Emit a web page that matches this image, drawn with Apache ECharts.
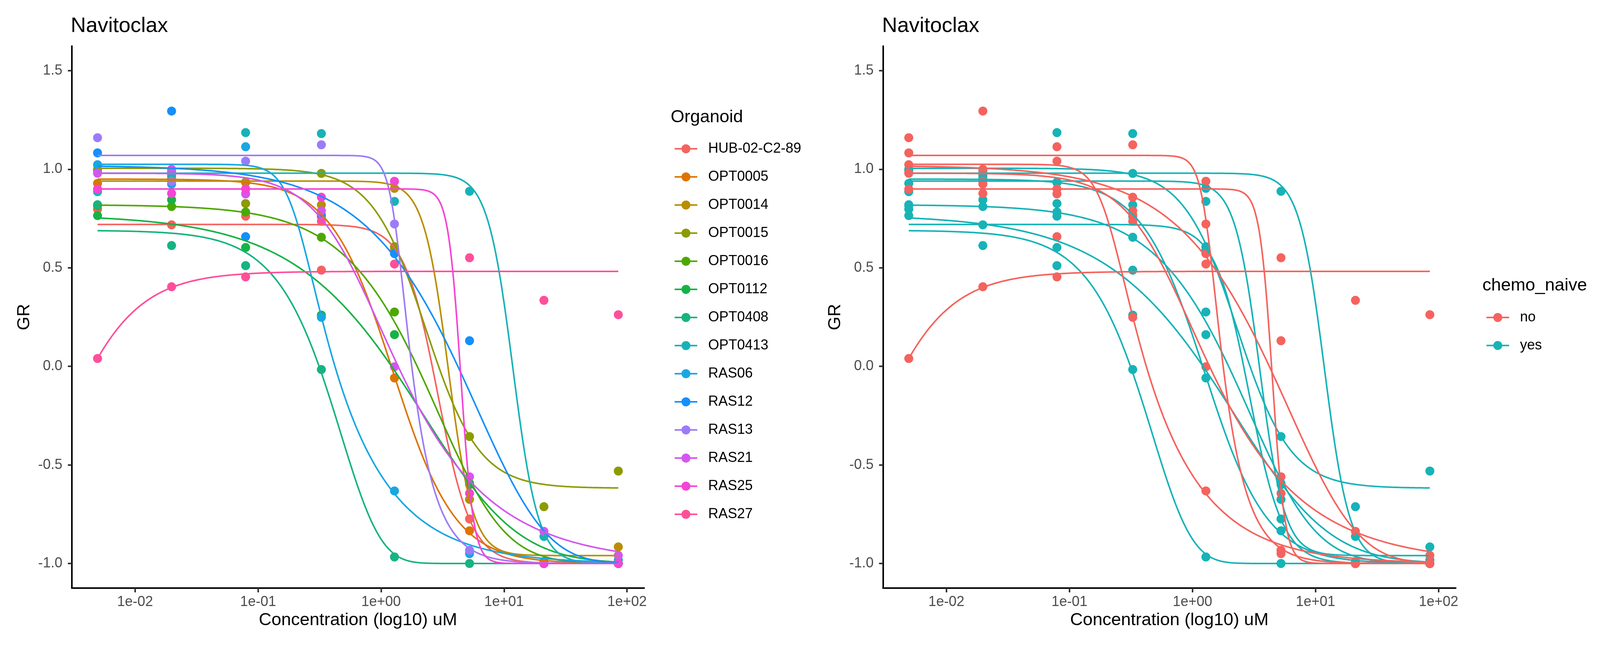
<!DOCTYPE html>
<html>
<head>
<meta charset="utf-8">
<script src="https://cdn.jsdelivr.net/npm/echarts@6/dist/echarts.min.js"></script>
<style>
html,body{margin:0;padding:0;background:#ffffff;}
#chart{width:4137px;height:1662px;}
</style>
</head>
<body>
<div id="chart"></div>
<script>
// ---------------- data ----------------
const drugName = 'Navitoclax';
const organoids = ['HUB-02-C2-89','OPT0005','OPT0014','OPT0015','OPT0016','OPT0112','OPT0408','OPT0413','RAS06','RAS12','RAS13','RAS21','RAS25','RAS27'];
const chemoNaive = ['yes','yes','yes','yes','yes','yes','yes','yes','no','no','no','no','no','no'];
const chemoLevels = ['no','yes'];

// concentrations (uM) of the 8 measured doses
const doses = [0.00495, 0.0198, 0.0792, 0.327, 1.285, 5.24, 21.1, 84.9];

// GR value measured at each dose
const grHUB02C289 = [0.797, 0.718, 0.762, 0.488, 0.590, -0.774, -1.000, -1.000];
const grOPT0005   = [0.928, 0.960, 0.935, 0.760, -0.059, -0.834, -1.000, -1.000];
const grOPT0014   = [0.994, 0.978, 0.932, 0.819, 0.903, -0.675, -1.000, -0.916];
const grOPT0015   = [1.000, 0.990, 0.826, 0.979, 0.607, -0.356, -0.712, -0.531];
const grOPT0016   = [0.815, 0.811, 0.783, 0.655, 0.276, -0.600, -1.000, -1.000];
const grOPT0112   = [0.765, 0.845, 0.603, 0.260, 0.161, -0.593, -1.000, -1.000];
const grOPT0408   = [0.820, 0.613, 0.511, -0.016, -0.967, -1.000, -1.000, -1.000];
const grOPT0413   = [0.886, 0.970, 1.186, 1.181, 0.837, 0.888, -0.863, -0.982];
const grRAS06     = [1.023, 0.925, 1.114, 0.249, -0.632, -0.950, -1.000, -1.000];
const grRAS12     = [1.083, 1.295, 0.658, 0.769, 0.572, 0.130, -0.990, -1.000];
const grRAS13     = [1.160, 0.939, 1.041, 1.124, 0.722, -0.933, -1.000, -1.000];
const grRAS21     = [0.980, 1.000, 0.875, 0.789, -0.002, -0.560, -0.837, -0.959];
const grRAS25     = [0.899, 0.877, 0.900, 0.858, 0.939, -0.644, -1.000, -1.000];
const grRAS27     = [0.040, 0.404, 0.454, 0.736, 0.519, 0.551, 0.335, 0.262];
const grByOrganoid = [grHUB02C289, grOPT0005, grOPT0014, grOPT0015, grOPT0016, grOPT0112, grOPT0408,
                      grOPT0413, grRAS06, grRAS12, grRAS13, grRAS21, grRAS25, grRAS27];

// fitted dose-response curves:
// plateau at low dose, plateau at high dose, asymmetry, and two points the curve passes through
const fitTop       = [0.72, 0.95, 0.94, 1.005, 0.82, 0.77, 0.69, 0.98, 1.025, 1.02, 1.07, 0.98, 0.90, -1.5];
const fitBottom    = [-1.0, -1.0, -0.96, -0.618, -1.0, -1.0, -1.0, -1.0, -1.0, -1.0, -1.0, -1.0, -1.0, 0.482];
const fitShape     = [1, 1, 1, 1, 3, 3, 8, 1, 0.2, 8, 0.3, 0.4, 1, 1];
const anchorLoDose = [1.3, 0.32, 2.66, 1.3, 0.32, 0.32, 0.32, 9.12, 0.2716, 0.32, 1.3, 0.327, 3.86, 0.00495];
const anchorLoGR   = [0.595, 0.777, 0.501, 0.612, 0.654, 0.42, -0.016, 0.48, 0.456, 0.865, 0.723, 0.749, 0.46, 0.04];
const anchorHiDose = [5.25, 1.3, 5.25, 5.25, 5.25, 5.25, 1.3, 19.2, 1.3, 21, 2.866, 21, 5.82, 0.0198];
const anchorHiGR   = [-0.777, -0.059, -0.675, -0.356, -0.575, -0.594, -0.955, -0.774, -0.65, -0.833, -0.675, -0.84, -0.823, 0.40];

// axis ticks
const xTickExponents = [-2, -1, 0, 1, 2];
const yTicks = [-1, -0.5, 0, 0.5, 1, 1.5];

// ---------------- styling ----------------
const organoidColors = ['#F5635E','#DD7400','#B98E00','#8C9B00','#4CA800','#17B246','#17B382',
                        '#18B2B6','#18A7E2','#1490FA','#9C7BF8','#D456EE','#F544D6','#FF4F9A'];
const chemoColors = {no:'#F5635E', yes:'#17B3B7'};
const FONT = 'Liberation Sans, Arial, Helvetica, sans-serif';

// ---------------- curve model ----------------
function buildCurve(i){
  const T = fitTop[i], B = fitBottom[i], s = fitShape[i];
  const g = f => Math.pow((T - B) / (f - B), 1 / s) - 1;
  const g1 = g(anchorLoGR[i]), g2 = g(anchorHiGR[i]);
  const h = Math.log(g2 / g1) / Math.log(anchorHiDose[i] / anchorLoDose[i]);
  const ec = anchorLoDose[i] / Math.pow(g1, 1 / h);
  return c => B + (T - B) / Math.pow(1 + Math.pow(c / ec, h), s);
}
const lxStart = Math.log10(doses[0]);
const lxEnd = Math.log10(doses[doses.length - 1]);
const NS = 400;
const curveLx = [];
for (let k = 0; k <= NS; k++) curveLx.push(lxStart + (lxEnd - lxStart) * k / NS);

// ---------------- axes ----------------
function expLabel(v){
  const e = Math.round(v);
  const a = Math.abs(e);
  return '1e' + (e < 0 ? '-' : '+') + (a < 10 ? '0' + a : '' + a);
}
function makeX(gi){
  return {
    type:'value', gridIndex:gi, min:-2.515, max:2.139,
    axisLine:{show:true, onZero:false, lineStyle:{color:'#000000', width:4}},
    axisTick:{show:true, length:11, customValues:xTickExponents, lineStyle:{color:'#333333', width:4}},
    axisLabel:{show:true, customValues:xTickExponents, formatter:expLabel, margin:18,
               fontSize:36, color:'#4D4D4D', fontFamily:FONT},
    splitLine:{show:false},
    name:'Concentration (log10) uM', nameLocation:'middle', nameGap:60,
    nameTextStyle:{fontSize:45, color:'#000000', fontFamily:FONT}
  };
}
function makeY(gi){
  return {
    type:'value', gridIndex:gi, min:-1.125, max:1.625,
    axisLine:{show:true, onZero:false, lineStyle:{color:'#000000', width:4}},
    axisTick:{show:true, length:10, customValues:yTicks, lineStyle:{color:'#333333', width:4}},
    axisLabel:{show:true, customValues:yTicks, formatter:v => v.toFixed(1), margin:24,
               fontSize:36, color:'#4D4D4D', fontFamily:FONT},
    splitLine:{show:false},
    name:'GR', nameLocation:'middle', nameGap:99,
    nameTextStyle:{fontSize:45, color:'#000000', fontFamily:FONT}
  };
}

// ---------------- series ----------------
const series = [];
organoids.forEach((name, i) => {
  const curve = buildCurve(i);
  const pts = curveLx.map(lx => [lx, curve(Math.pow(10, lx))]);
  series.push({
    type:'line', name:name, xAxisIndex:0, yAxisIndex:0, data:pts,
    showSymbol:false, symbol:'circle', smooth:false, z:3, silent:true,
    lineStyle:{width:4, color:organoidColors[i]}, itemStyle:{color:organoidColors[i]},
    emphasis:{disabled:true}
  });
  const cc = chemoColors[chemoNaive[i]];
  series.push({
    type:'line', name:chemoNaive[i], xAxisIndex:1, yAxisIndex:1, data:pts,
    showSymbol:false, symbol:'circle', smooth:false, z:3, silent:true,
    lineStyle:{width:4, color:cc}, itemStyle:{color:cc},
    emphasis:{disabled:true}
  });
});
organoids.forEach((name, i) => {
  const pts = doses.map((d, k) => [Math.log10(d), grByOrganoid[i][k]]);
  series.push({
    type:'scatter', name:name, xAxisIndex:0, yAxisIndex:0, data:pts,
    symbol:'circle', symbolSize:23, z:2, silent:true,
    itemStyle:{color:organoidColors[i], opacity:1}, emphasis:{disabled:true}
  });
  series.push({
    type:'scatter', name:chemoNaive[i], xAxisIndex:1, yAxisIndex:1, data:pts,
    symbol:'circle', symbolSize:23, z:2, silent:true,
    itemStyle:{color:chemoColors[chemoNaive[i]], opacity:1}, emphasis:{disabled:true}
  });
});

const titleStyle = {fontSize:54, fontWeight:'normal', color:'#000000', fontFamily:FONT};
const legendTitleStyle = {fontSize:45, fontWeight:'normal', color:'#000000', fontFamily:FONT};
const legendText = {fontSize:36, color:'#000000', fontFamily:FONT, padding:[0,0,0,23]};

const option = {
  backgroundColor:'#ffffff',
  animation:false,
  title:[
    {text:drugName, left:181, top:40, padding:0, textStyle:titleStyle},
    {text:drugName, left:2258, top:40, padding:0, textStyle:titleStyle},
    {text:'Organoid', left:1717, top:278, padding:0, textStyle:legendTitleStyle},
    {text:'chemo_naive', left:3795, top:709, padding:0, textStyle:legendTitleStyle}
  ],
  grid:[
    {left:183.7, top:117.9, width:1465.3, height:1388.2, containLabel:false, outerBoundsMode:'none'},
    {left:2260.4, top:117.9, width:1466.2, height:1388.2, containLabel:false, outerBoundsMode:'none'}
  ],
  xAxis:[makeX(0), makeX(1)],
  yAxis:[makeY(0), makeY(1)],
  legend:[
    {
      data:organoids, orient:'vertical', left:1725, top:363, padding:0,
      itemWidth:58, itemHeight:28.75, itemGap:36, selectedMode:false,
      lineStyle:{width:4}, textStyle:legendText
    },
    {
      data:chemoLevels, orient:'vertical', left:3803.3, top:795, padding:0,
      itemWidth:58, itemHeight:28.75, itemGap:35.7, selectedMode:false,
      lineStyle:{width:4}, textStyle:legendText
    }
  ],
  series:series
};

const chart = echarts.init(document.getElementById('chart'), null, {renderer:'canvas', width:4137, height:1662});
chart.setOption(option);
</script>
</body>
</html>
